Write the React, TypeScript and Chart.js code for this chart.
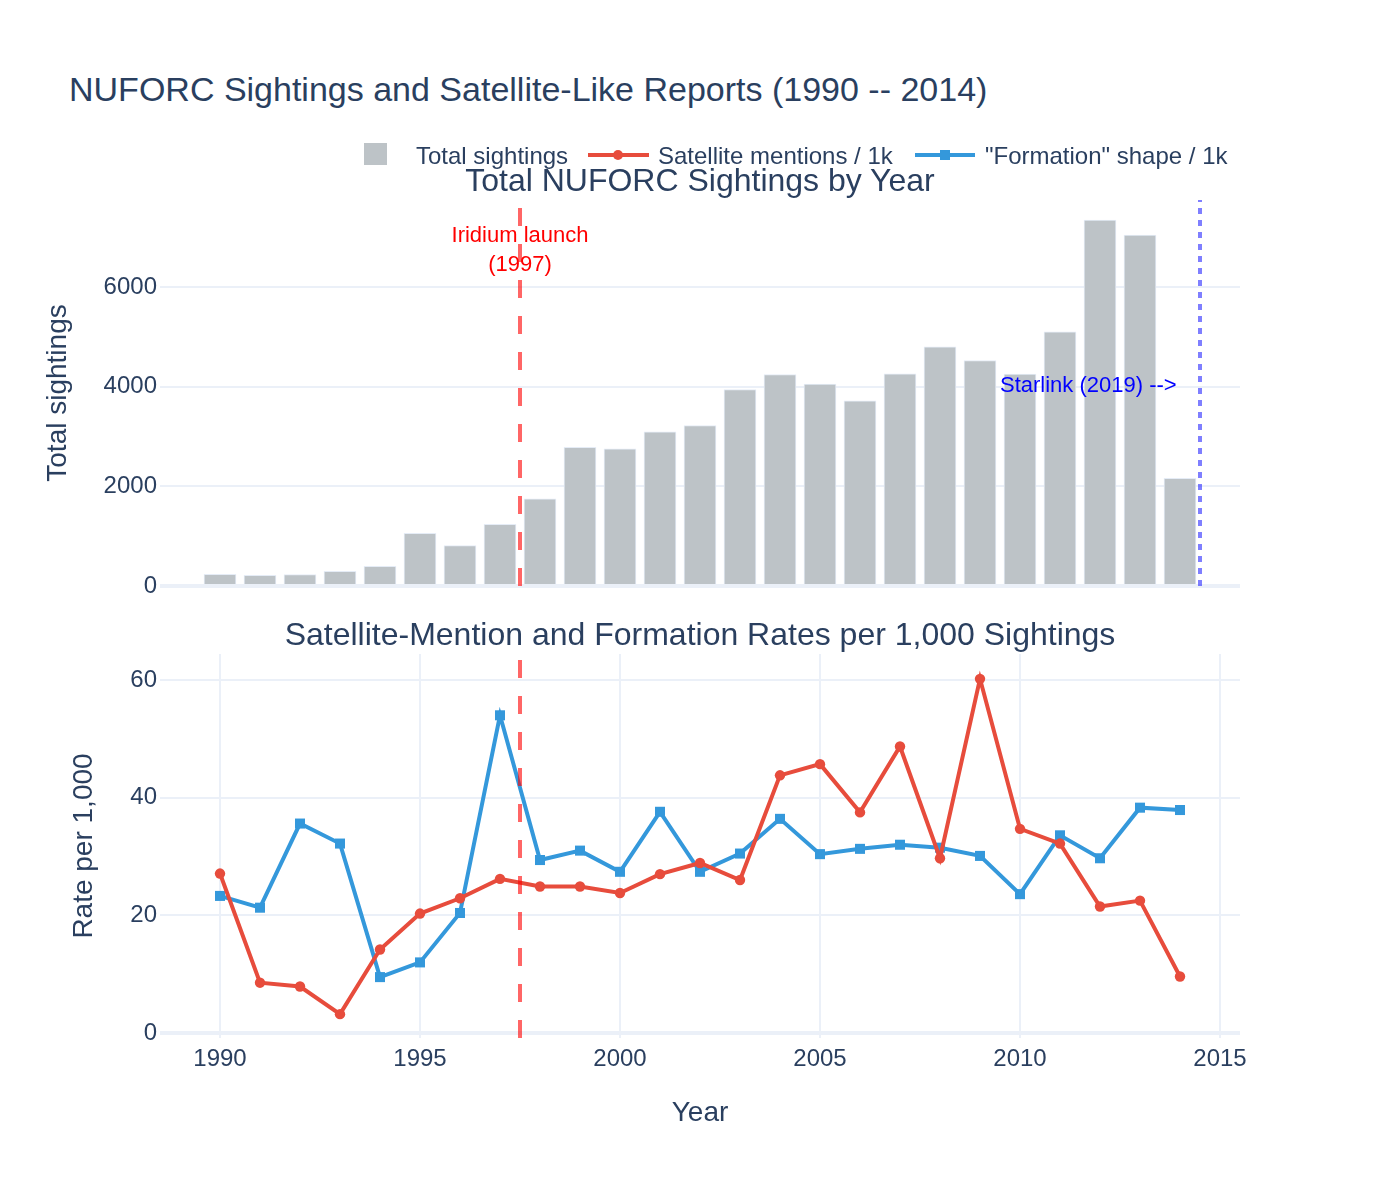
import React, { useEffect, useRef } from "react";
import { Chart, registerables } from "chart.js";

Chart.register(...registerables);

// ---------------- data ----------------
const years = [1990, 1991, 1992, 1993, 1994, 1995, 1996, 1997, 1998, 1999, 2000, 2001, 2002, 2003, 2004, 2005, 2006, 2007, 2008, 2009, 2010, 2011, 2012, 2013, 2014];
const totalSightings = [235, 215, 229, 295, 396, 1059, 812, 1239, 1748, 2786, 2752, 3094, 3222, 3945, 4247, 4052, 3716, 4259, 4801, 4528, 4253, 5102, 7346, 7045, 2164];
const satelliteRate = [27.1, 8.55, 7.9, 3.2, 14.2, 20.3, 22.9, 26.2, 24.9, 24.9, 23.8, 27.0, 28.9, 26.0, 43.8, 45.7, 37.5, 48.7, 29.7, 60.2, 34.7, 32.2, 21.5, 22.5, 9.6];
const formationRate = [23.3, 21.3, 35.6, 32.2, 9.5, 12.0, 20.4, 54.0, 29.4, 31.0, 27.4, 37.6, 27.4, 30.5, 36.4, 30.4, 31.3, 32.0, 31.5, 30.1, 23.6, 33.6, 29.7, 38.3, 37.9];
const xTickValues = [1990, 1995, 2000, 2005, 2010, 2015];
const topYTickValues = [0, 2000, 4000, 6000];
const bottomYTickValues = [0, 20, 40, 60];
const iridiumX = 1997.5;
const starlinkX = 2014.5;

const TEXT = "#2a3f5f";
const GRID = "#ebf0f8";
const FONT = "'Liberation Sans', Arial, sans-serif";
const RED = "#e74c3c";
const BLUE = "#3498db";
const BAR = "#bdc3c7";

function vlines(lines: { value: number; color: string; dash: number[] }[]) {
  return {
    id: "vlines",
    afterDatasetsDraw(chart: any) {
      const { ctx, chartArea, scales } = chart;
      for (const l of lines) {
        const x = scales.x.getPixelForValue(l.value);
        ctx.save();
        ctx.strokeStyle = l.color;
        ctx.lineWidth = 4;
        ctx.setLineDash(l.dash);
        ctx.beginPath();
        ctx.moveTo(x, chartArea.bottom);
        ctx.lineTo(x, chartArea.top);
        ctx.stroke();
        ctx.restore();
      }
    },
  };
}

const gridWidth = (c: any) => (c.tick && c.tick.value === 0 ? 4 : 2);
const plain = (v: any) => String(v);

export default function App() {
  const topRef = useRef<HTMLCanvasElement>(null);
  const botRef = useRef<HTMLCanvasElement>(null);

  useEffect(() => {
    const tickFont = { family: FONT, size: 24 };
    const top = new Chart(topRef.current as HTMLCanvasElement, {
      type: "bar",
      data: {
        datasets: [
          {
            label: "Total sightings",
            data: years.map((y, i) => ({ x: y, y: totalSightings[i] })),
            backgroundColor: BAR,
            borderColor: "#e5ecf6",
            borderWidth: 1,
            barThickness: 32,
          } as any,
        ],
      },
      options: {
        responsive: false,
        animation: false,
        layout: { padding: { top: 30, bottom: 30, left: 0, right: 160 } },
        plugins: { legend: { display: false }, tooltip: { enabled: false } },
        scales: {
          x: {
            type: "linear",
            min: 1988.5,
            max: 2015.5,
            offset: false,
            display: false,
          },
          y: {
            min: 0,
            max: 7750,
            afterBuildTicks: (s: any) => {
              s.ticks = topYTickValues.map((v) => ({ value: v }));
            },
            afterFit: (s: any) => {
              s.width = 160;
            },
            grid: { color: GRID, lineWidth: gridWidth, drawTicks: false },
            border: { display: false },
            ticks: { color: TEXT, font: tickFont, padding: 3, callback: plain },
          },
        },
      } as any,
      plugins: [
        vlines([
          { value: iridiumX, color: "rgba(255,0,0,0.6)", dash: [18, 18] },
          { value: starlinkX, color: "rgba(0,0,255,0.5)", dash: [6, 6] },
        ]),
      ],
    });

    const bot = new Chart(botRef.current as HTMLCanvasElement, {
      type: "line",
      data: {
        datasets: [
          {
            label: "Satellite mentions / 1k",
            data: years.map((y, i) => ({ x: y, y: satelliteRate[i] })),
            borderColor: RED,
            backgroundColor: RED,
            borderWidth: 4,
            pointStyle: "circle",
            pointRadius: 5.2,
            pointBorderWidth: 0,
            pointBackgroundColor: RED,
            tension: 0,
          },
          {
            label: '"Formation" shape / 1k',
            data: years.map((y, i) => ({ x: y, y: formationRate[i] })),
            borderColor: BLUE,
            backgroundColor: BLUE,
            borderWidth: 4,
            pointStyle: "rect",
            pointRadius: 7.1,
            pointBorderWidth: 0,
            pointBackgroundColor: BLUE,
            tension: 0,
          },
        ],
      },
      options: {
        responsive: false,
        animation: false,
        layout: { padding: { top: 30, bottom: 0, left: 0, right: 160 } },
        plugins: { legend: { display: false }, tooltip: { enabled: false } },
        scales: {
          x: {
            type: "linear",
            min: 1988.5,
            max: 2015.5,
            afterBuildTicks: (s: any) => {
              s.ticks = xTickValues.map((v) => ({ value: v }));
            },
            afterFit: (s: any) => {
              s.height = 102;
            },
            grid: { color: GRID, lineWidth: 2, drawTicks: false },
            border: { display: false },
            ticks: { color: TEXT, font: tickFont, padding: 7, maxRotation: 0, callback: plain },
          },
          y: {
            min: -0.85,
            max: 64.42,
            afterBuildTicks: (s: any) => {
              s.ticks = bottomYTickValues.map((v) => ({ value: v }));
            },
            afterFit: (s: any) => {
              s.width = 160;
            },
            grid: { color: GRID, lineWidth: gridWidth, drawTicks: false },
            border: { display: false },
            ticks: { color: TEXT, font: tickFont, padding: 3, callback: plain },
          },
        },
      } as any,
      plugins: [vlines([{ value: iridiumX, color: "rgba(255,0,0,0.6)", dash: [18, 18] }])],
    });

    return () => {
      top.destroy();
      bot.destroy();
    };
  }, []);

  const txt = (extra: React.CSSProperties): React.CSSProperties => ({
    position: "absolute",
    fontFamily: FONT,
    color: TEXT,
    whiteSpace: "nowrap",
    ...extra,
  });

  return (
    <div style={{ position: "absolute", left: 0, top: 0, width: 1400, height: 1200, background: "#fff", overflow: "hidden" }}>
      <canvas ref={topRef} width={1400} height={446} style={{ position: "absolute", left: 0, top: 170 }} />
      <canvas ref={botRef} width={1400} height={516} style={{ position: "absolute", left: 0, top: 624 }} />

      {/* main title */}
      <div style={txt({ left: 69, top: 71.5, fontSize: 34, lineHeight: "34px" })}>
        NUFORC Sightings and Satellite-Like Reports (1990 -- 2014)
      </div>

      {/* legend */}
      <div style={{ position: "absolute", left: 364, top: 143, width: 23, height: 22, background: BAR }} />
      <div style={txt({ left: 416, top: 144, fontSize: 24, lineHeight: "24px" })}>Total sightings</div>
      <div style={{ position: "absolute", left: 588, top: 153, width: 61, height: 4, background: RED }} />
      <div style={{ position: "absolute", left: 613, top: 150, width: 10, height: 10, borderRadius: "50%", background: RED }} />
      <div style={txt({ left: 658, top: 144, fontSize: 24, lineHeight: "24px" })}>Satellite mentions / 1k</div>
      <div style={{ position: "absolute", left: 915, top: 153, width: 60, height: 4, background: BLUE }} />
      <div style={{ position: "absolute", left: 940, top: 150, width: 10, height: 10, background: BLUE }} />
      <div style={txt({ left: 985, top: 144, fontSize: 24, lineHeight: "24px" })}>"Formation" shape / 1k</div>

      {/* subplot titles */}
      <div style={txt({ left: 300, width: 800, textAlign: "center", top: 164, fontSize: 32, lineHeight: "32px" })}>
        Total NUFORC Sightings by Year
      </div>
      <div style={txt({ left: 200, width: 1000, textAlign: "center", top: 618, fontSize: 32, lineHeight: "32px" })}>
        Satellite-Mention and Formation Rates per 1,000 Sightings
      </div>

      {/* axis titles */}
      <div style={txt({ left: 57 - 150, width: 300, top: 393 - 14, textAlign: "center", fontSize: 28, lineHeight: "28px", transform: "rotate(-90deg)" })}>
        Total sightings
      </div>
      <div style={txt({ left: 82.6 - 150, width: 300, top: 846 - 14, textAlign: "center", fontSize: 28, lineHeight: "28px", transform: "rotate(-90deg)" })}>
        Rate per 1,000
      </div>
      <div style={txt({ left: 600, width: 200, top: 1097.5, textAlign: "center", fontSize: 28, lineHeight: "28px" })}>Year</div>

      {/* annotations */}
      <div style={txt({ left: 420, width: 200, top: 221, textAlign: "center", fontSize: 22, lineHeight: "28.6px", color: "red" })}>
        Iridium launch
        <br />
        (1997)
      </div>
      <div style={txt({ left: 1000, top: 374, fontSize: 22, lineHeight: "22px", color: "blue" })}>Starlink (2019) --&gt;</div>
    </div>
  );
}
